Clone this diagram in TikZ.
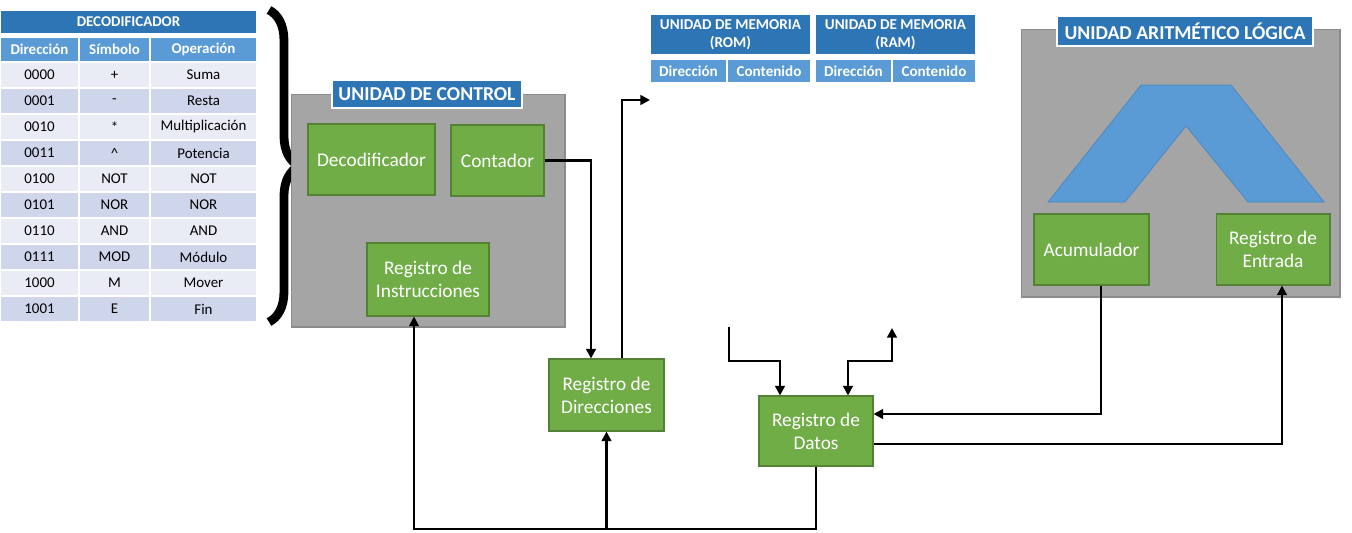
\documentclass[tikz,border=0pt]{standalone}
\usepackage{fontspec}
\setmainfont{Carlito}
\usepackage{tikz}
\usetikzlibrary{
  arrows.meta,
  positioning,
  calc,
  decorations.pathreplacing
}
\usepackage{xcolor}
\definecolor{titleBlue}{HTML}{2E75B6}
\definecolor{headBlue}{HTML}{5B9BD5}
\definecolor{rowOdd}{HTML}{E9EBF5}
\definecolor{rowEven}{HTML}{CFD5EA}
\definecolor{regGreen}{HTML}{70AD47}
\definecolor{regGreenDark}{HTML}{548235}
\definecolor{unitGray}{HTML}{A5A5A5}
\definecolor{unitGrayDark}{HTML}{8C8C8C}
\definecolor{aluBlue}{HTML}{5B9BD5}
\definecolor{aluBlueDark}{HTML}{4A86C0}
\tikzset{
  register/.style={
    rectangle,
    draw=regGreenDark,
    fill=regGreen,
    line width=0.6pt,
    inner sep=0pt,
    align=center,
    text=white,
    font=\fontsize{11}{13}\selectfont,
    minimum width=2.3cm,
    minimum height=1.42cm
  }
}
\tikzset{
  unitBox/.style={
    rectangle,
    draw=unitGrayDark,
    fill=unitGray,
    line width=0.6pt,
    inner sep=0pt
  }
}
\tikzset{
  unitTitle/.style={
    rectangle,
    draw=white,
    line width=1.6pt,
    fill=titleBlue,
    inner sep=0pt,
    text=white,
    font=\bfseries\fontsize{11.2}{13}\selectfont
  }
}
\tikzset{
  cell/.style={
    rectangle,
    draw=white,
    line width=0.8pt,
    inner sep=0pt,
    outer sep=0pt,
    minimum height=0.52cm,
    font=\fontsize{8.5}{10}\selectfont
  }
}
\tikzset{
  headCell/.style={
    cell,
    fill=headBlue,
    text=white,
    minimum height=0.5cm,
    font=\bfseries\fontsize{8.5}{10}\selectfont
  }
}
\tikzset{
  memTitle/.style={
    headCell,
    fill=titleBlue,
    align=center,
    minimum width=3.22cm,
    minimum height=0.82cm,
    font=\bfseries\fontsize{8.6}{10.5}\selectfont
  }
}
\tikzset{
  memHead/.style={
    headCell,
    minimum height=0.48cm,
    font=\bfseries\fontsize{8.6}{10}\selectfont
  }
}
\tikzset{
  bigBrace/.style={
    decorate,
    decoration={brace, amplitude=0.6cm},
    line width=5pt
  }
}
\tikzset{
  conn/.style={line width=1.6pt}
}

\begin{document}
\begin{tikzpicture}[x=0.02cm, y=-0.02cm, >={Triangle[length=5.5pt,width=5.5pt]}]
  \useasboundingbox (0,0) rectangle (1352,532);
  \node[headCell, fill=titleBlue, minimum width=5.14cm, minimum height=0.48cm] (tableTitle) at (128.5,22) {DECODIFICADOR};
  \node[headCell, minimum width=1.58cm] (dirHead) at (39.5,49.5) {Dirección};
  \node[headCell, minimum width=1.42cm] (symHead) at (114.5,49.5) {Símbolo};
  \node[headCell, minimum width=2.14cm] (opHead) at (203.5,49.5) {Operación};
  \foreach \dir/\sym/\op [count=\i] in {0000/+/Suma, 0001/-/Resta, 0010/*/Multiplicación,
    0011/\textasciicircum/Potencia, 0100/NOT/NOT, 0101/NOR/NOR, 0110/AND/AND,
    0111/MOD/Módulo, 1000/M/Mover, 1001/E/Fin} {
    \ifodd\i \def\rowFill{rowOdd}\else \def\rowFill{rowEven}\fi
    \node[cell, fill=\rowFill, minimum width=1.58cm] (dir\i) at (39.5,{49+26*\i}) {\dir};
    \node[cell, fill=\rowFill, minimum width=1.42cm] (sym\i) at (114.5,{49+26*\i}) {\sym};
    \node[cell, fill=\rowFill, minimum width=2.14cm] (op\i) at (203.5,{49+26*\i}) {\op};
  }
  \draw[bigBrace] ([xshift=0.24cm]tableTitle.north east) -- ([xshift=0.24cm]op10.south east);

  \node[unitBox, minimum width=5.48cm, minimum height=4.66cm] (ctrlUnit) at (428,210.5) {};
  \node[unitTitle, minimum width=3.8cm, minimum height=0.56cm] (ctrlTitle) at (427,94) {UNIDAD DE CONTROL};
  \node[register, minimum width=2.54cm] (decodificador) at (371.5,159.5) {Decodificador};
  \node[register, minimum width=1.86cm] (contador) at (497.5,160.5) {Contador};
  \node[register, minimum width=2.44cm, minimum height=1.46cm] (regInstrucciones) at (428,279.5) {Registro de\\Instrucciones};
  \node[register, minimum height=1.44cm] (regDirecciones) at (606.5,395) {Registro de\\Direcciones};
  \node[register, minimum width=2.28cm, minimum height=1.4cm] (regDatos) at (816,431) {Registro de\\Datos};

  \node[memTitle] (romTitle) at (730.5,34.5) {UNIDAD DE MEMORIA\\(ROM)};
  \node[memTitle, right=0.08cm of romTitle] (ramTitle) {UNIDAD DE MEMORIA\\(RAM)};
  \node[memHead, minimum width=1.54cm, below right=0.08cm and 0cm of romTitle.south west] (romDir) {Dirección};
  \node[memHead, minimum width=1.68cm, right=0pt of romDir] (romCont) {Contenido};
  \node[memHead, minimum width=1.54cm, below right=0.08cm and 0cm of ramTitle.south west] (ramDir) {Dirección};
  \node[memHead, minimum width=1.68cm, right=0pt of ramDir] (ramCont) {Contenido};

  \node[unitBox, minimum width=6.38cm, minimum height=5.36cm] (alu) at (1180.5,163) {};
  \node[unitTitle, minimum width=5.12cm, minimum height=0.6cm] (aluTitle) at (1185,31) {UNIDAD ARITMÉTICO LÓGICA};
  \filldraw[fill=aluBlue, draw=aluBlueDark, line width=0.4pt]
    (1048,202) -- (1141,85) -- (1231,85) -- (1324,202)
    -- (1248,202) -- (1186,126) -- (1125,202) -- cycle;
  \node[register] (acumulador) at (1091.5,249.5) {Acumulador};
  \node[register, minimum width=2.28cm] (regEntrada) at (1273,249.5) {Registro de\\Entrada};

  \coordinate (romIn) at (650,100);
  \coordinate (romOut) at (729,327);
  \coordinate (ramIO) at (892,328);
  \coordinate (busY) at (0,529);
  \draw[conn,->] (contador.east) -| ([xshift=-0.31cm]regDirecciones.north);
  \draw[conn,->] ([xshift=0.31cm]regDirecciones.north) |- (romIn);
  \draw[conn,->] (romOut) -- ++(0,34) -| ([xshift=-0.72cm]regDatos.north);
  \draw[conn,<->] (ramIO) -- ++(0,33) -| ([xshift=0.64cm]regDatos.north);
  \draw[conn,->] ([xshift=0.19cm]acumulador.south) |- ([yshift=0.34cm]regDatos.east);
  \draw[conn,->] ([yshift=-0.26cm]regDatos.east) -| ([xshift=0.18cm]regEntrada.south);
  \draw[conn,->] (regDatos.south) -- (regDatos.south |- busY) -| ([xshift=-0.28cm]regInstrucciones.south);
  \draw[conn,->] (regDirecciones.south |- busY) -- (regDirecciones.south);
\end{tikzpicture}
\end{document}
